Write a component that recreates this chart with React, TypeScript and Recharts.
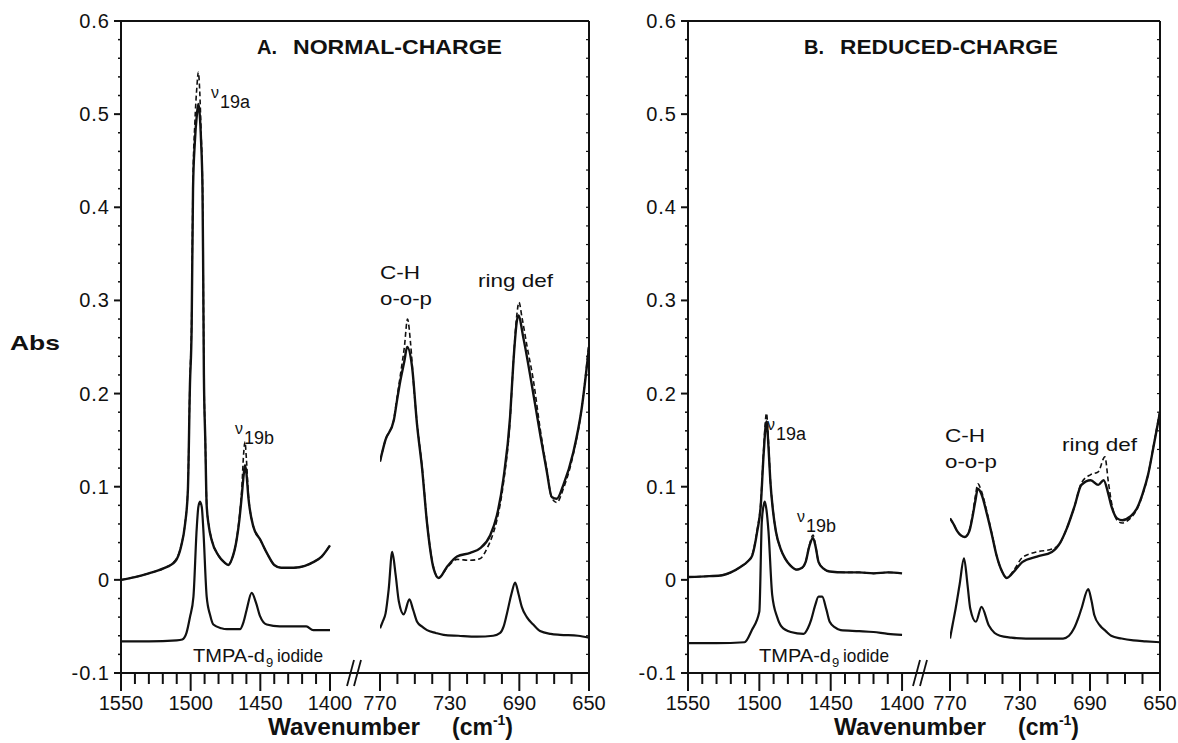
import React from 'react'
import { LineChart, Line, XAxis, YAxis, ReferenceLine } from 'recharts'

type Pt = [number, number]

const font = "'Liberation Sans', Arial, Helvetica, sans-serif"
const ink = '#111'

// A. normal charge, 1550-1400 cm-1
const aHighSolid: Pt[] = [
  [1550, 0.0], [1540, 0.003], [1530, 0.007], [1520, 0.012], [1511, 0.02], [1507, 0.035], [1504, 0.06],
  [1502, 0.096], [1500.5, 0.21], [1499.3, 0.27], [1498.3, 0.42], [1497, 0.47], [1495.5, 0.5], [1494.5, 0.511],
  [1493.5, 0.5], [1492.5, 0.47], [1491.5, 0.42], [1491, 0.33], [1490.5, 0.22], [1489.5, 0.15], [1488.5, 0.08],
  [1487, 0.058], [1485, 0.043], [1480, 0.026], [1476, 0.019], [1473, 0.016], [1470.5, 0.022], [1467, 0.043],
  [1465, 0.065], [1463.4, 0.089], [1462, 0.112], [1461, 0.123], [1460, 0.115], [1458.6, 0.089], [1455, 0.057],
  [1450, 0.043], [1445, 0.028], [1440, 0.016], [1435, 0.013], [1426, 0.013], [1418, 0.015], [1412, 0.019],
  [1406, 0.025], [1400, 0.037],
]
const aHighDashed: Pt[] = [
  [1550, 0.0], [1540, 0.003], [1530, 0.007], [1520, 0.012], [1511, 0.021], [1507, 0.036], [1504, 0.061],
  [1502, 0.098], [1500.5, 0.215], [1499.3, 0.28], [1498.3, 0.43], [1497, 0.49], [1495.5, 0.53], [1494.5, 0.545],
  [1493.5, 0.525], [1492.5, 0.48], [1491.5, 0.425], [1491, 0.335], [1490.5, 0.225], [1489.5, 0.152], [1488.5, 0.082],
  [1487, 0.059], [1485, 0.044], [1480, 0.026], [1476, 0.019], [1473, 0.016], [1470.5, 0.022], [1467, 0.044],
  [1465, 0.068], [1463.4, 0.095], [1462, 0.135], [1461, 0.148], [1460, 0.13], [1458.6, 0.092], [1455, 0.058],
  [1450, 0.043], [1445, 0.028], [1440, 0.016], [1435, 0.013], [1426, 0.013], [1418, 0.015], [1412, 0.019],
  [1406, 0.025], [1400, 0.037],
]
const aHighRef: Pt[] = [
  [1550, -0.066], [1530, -0.066], [1510, -0.065], [1506, -0.064], [1503, -0.057], [1500.5, -0.04], [1498, -0.018],
  [1495.7, 0.054], [1494.5, 0.078], [1493.3, 0.084], [1492, 0.078], [1490.9, 0.054], [1488.5, -0.018],
  [1486, -0.038], [1483.7, -0.048], [1478, -0.052], [1474, -0.053], [1464.6, -0.053], [1462, -0.045],
  [1459.8, -0.032], [1456.2, -0.014], [1453, -0.025], [1450.2, -0.039], [1445.4, -0.048], [1436, -0.05],
  [1417, -0.05], [1412, -0.054], [1400, -0.054],
]

// A. normal charge, 770-650 cm-1
const aLowSolid: Pt[] = [
  [770, 0.127], [766.9, 0.15], [762.1, 0.171], [760.2, 0.193], [758.3, 0.214], [756, 0.235], [754.4, 0.25],
  [751.6, 0.229], [748.7, 0.166], [745.8, 0.119], [743, 0.061], [739.2, 0.012], [736.3, 0.002], [731.5, 0.014],
  [725.8, 0.025], [718.2, 0.029], [712.4, 0.034], [706.7, 0.048], [702.9, 0.069], [699.1, 0.109], [695.3, 0.175],
  [693.4, 0.234], [691.4, 0.278], [690.6, 0.284], [687.6, 0.259], [682.8, 0.209], [678.1, 0.157], [674.2, 0.116],
  [671.4, 0.089], [668.5, 0.087], [664.7, 0.102], [659, 0.137], [654.2, 0.184], [650, 0.25],
]
const aLowDashed: Pt[] = [
  [770, 0.127], [766.9, 0.15], [762.1, 0.172], [760.2, 0.196], [758.3, 0.22], [756, 0.25], [754.2, 0.28],
  [752.5, 0.255], [750.5, 0.205], [748.7, 0.168], [745.8, 0.121], [743, 0.062], [739.2, 0.013], [736.3, 0.002],
  [731.5, 0.013], [725.8, 0.022], [718.2, 0.021], [712.4, 0.023], [708.5, 0.034], [705, 0.05], [702.9, 0.064],
  [699.1, 0.104], [695.3, 0.172], [693.4, 0.235], [691.4, 0.285], [690.2, 0.298], [688.5, 0.282], [685.5, 0.25],
  [682, 0.215], [678.1, 0.163], [674.2, 0.118], [671.4, 0.088], [668.5, 0.083], [664.7, 0.098], [659, 0.135],
  [654.2, 0.184], [650, 0.255],
]
const aLowRef: Pt[] = [
  [770, -0.052], [768.5, -0.045], [766.8, -0.036], [765, -0.01], [763, 0.03], [761, 0.005], [759.2, -0.023],
  [756.4, -0.037], [753.1, -0.021], [751, -0.032], [748.7, -0.045], [746, -0.05], [743, -0.054], [738, -0.057],
  [733.5, -0.059], [725, -0.06], [714.3, -0.061], [705, -0.06], [701, -0.057], [699, -0.05], [697.1, -0.036],
  [694.5, -0.015], [692.4, -0.003], [690.5, -0.015], [688.6, -0.029], [685.7, -0.04], [682, -0.048],
  [678.1, -0.055], [672, -0.058], [666.6, -0.059], [656.3, -0.06], [650, -0.062],
]

// B. reduced charge, 1550-1400 cm-1
const bHighSolid: Pt[] = [
  [1550, 0.003], [1535, 0.004], [1526, 0.005], [1520, 0.008], [1513, 0.014], [1508, 0.02], [1505, 0.026],
  [1501.5, 0.052], [1499, 0.08], [1497, 0.135], [1495, 0.17], [1493.5, 0.14], [1492.3, 0.106], [1490.5, 0.075],
  [1488.4, 0.052], [1485, 0.033], [1482, 0.023], [1478, 0.015], [1474, 0.011], [1470, 0.013], [1467.6, 0.019],
  [1465, 0.036], [1462.4, 0.045], [1460.5, 0.035], [1458.5, 0.019], [1455, 0.012], [1450.7, 0.009], [1440, 0.008],
  [1430, 0.008], [1420, 0.007], [1410, 0.008], [1400, 0.007],
]
const bHighDashed: Pt[] = [
  [1550, 0.003], [1535, 0.004], [1526, 0.005], [1520, 0.008], [1513, 0.014], [1508, 0.02], [1505, 0.027],
  [1501.5, 0.054], [1499, 0.083], [1497, 0.14], [1495, 0.179], [1493.5, 0.145], [1492.3, 0.108], [1490.5, 0.076],
  [1488.4, 0.052], [1485, 0.033], [1482, 0.023], [1478, 0.015], [1474, 0.011], [1470, 0.013], [1467.6, 0.019],
  [1465, 0.037], [1462.4, 0.048], [1460.5, 0.036], [1458.5, 0.019], [1455, 0.012], [1450.7, 0.009], [1440, 0.008],
  [1430, 0.008], [1420, 0.007], [1410, 0.008], [1400, 0.007],
]
const bHighRef: Pt[] = [
  [1550, -0.068], [1530, -0.068], [1510.4, -0.067], [1505.3, -0.054], [1500, -0.034], [1498.3, 0.062],
  [1497, 0.08], [1496.2, 0.084], [1495, 0.075], [1493.6, 0.052], [1491, -0.016], [1487.5, -0.04],
  [1484.5, -0.05], [1478, -0.056], [1469, -0.058], [1466, -0.052], [1463.7, -0.043], [1461, -0.028],
  [1458.5, -0.018], [1456, -0.018], [1453, -0.032], [1450.7, -0.045], [1447, -0.051], [1443, -0.054],
  [1430, -0.055], [1420, -0.056], [1410, -0.058], [1400, -0.059],
]

// B. reduced charge, 770-650 cm-1
const bLowSolid: Pt[] = [
  [770, 0.066], [768, 0.06], [765.8, 0.052], [761.5, 0.046], [759, 0.052], [757.3, 0.066], [755.5, 0.085],
  [754.1, 0.098], [752, 0.092], [748.8, 0.07], [746, 0.048], [743.5, 0.027], [740.5, 0.01], [737.6, 0.002],
  [733, 0.01], [728.7, 0.019], [720.3, 0.025], [711.8, 0.03], [707, 0.04], [703.3, 0.055], [699, 0.078],
  [694.9, 0.102], [689.6, 0.107], [685.3, 0.102], [682.2, 0.107], [679.5, 0.092], [677.9, 0.08], [674.5, 0.066],
  [671.6, 0.064], [667, 0.068], [663.1, 0.077], [660, 0.092], [656.8, 0.113], [653.5, 0.145], [650, 0.18],
]
const bLowDashed: Pt[] = [
  [770, 0.066], [768, 0.06], [765.8, 0.052], [761.5, 0.046], [759, 0.053], [757.3, 0.068], [755.5, 0.09],
  [754.1, 0.103], [752, 0.095], [748.8, 0.072], [746, 0.049], [743.5, 0.027], [740.5, 0.01], [737.6, 0.002],
  [733, 0.012], [728.7, 0.024], [720.3, 0.03], [711.8, 0.033], [707, 0.04], [703.3, 0.055], [699, 0.078],
  [694.9, 0.104], [689.6, 0.113], [685.3, 0.116], [681.5, 0.132], [679.5, 0.105], [677.9, 0.085], [674.5, 0.064],
  [671.6, 0.061], [667, 0.066], [663.1, 0.076], [660, 0.091], [656.8, 0.113], [653.5, 0.146], [650, 0.182],
]
const bLowRef: Pt[] = [
  [770, -0.063], [768.5, -0.048], [766.8, -0.031], [764.5, -0.005], [762, 0.023], [760, -0.005], [758.4, -0.031],
  [755.2, -0.045], [752, -0.029], [747.8, -0.049], [744.5, -0.057], [741.4, -0.06], [735, -0.062], [726.6, -0.063],
  [715, -0.063], [705.4, -0.063], [702, -0.06], [699.1, -0.052], [696.5, -0.04], [694.9, -0.031], [691, -0.01],
  [689.2, -0.022], [687.5, -0.038], [684.3, -0.049], [681, -0.055], [677.9, -0.06], [672, -0.063], [665.2, -0.065],
  [658, -0.066], [650, -0.067],
]

const highTicks = [1550, 1540, 1530, 1520, 1510, 1500, 1490, 1480, 1470, 1460, 1450, 1440, 1430, 1420, 1410, 1400]
const highLabels = [1550, 1500, 1450, 1400]
const lowTicks = [770, 760, 750, 740, 730, 720, 710, 700, 690, 680, 670, 660, 650]
const lowLabels = [770, 730, 690, 650]
const yTicks = [
  -0.1, -0.08, -0.06, -0.04, -0.02, 0, 0.02, 0.04, 0.06, 0.08, 0.1, 0.12, 0.14, 0.16, 0.18, 0.2, 0.22, 0.24,
  0.26, 0.28, 0.3, 0.32, 0.34, 0.36, 0.38, 0.4, 0.42, 0.44, 0.46, 0.48, 0.5, 0.52, 0.54, 0.56, 0.58, 0.6,
]

const rows = (pts: Pt[]) => pts.map(([w, a]) => ({ w, a }))
const isMajor = (v: number) => Math.abs(v * 10 - Math.round(v * 10)) < 1e-6

function XTick({ x, y, payload, labels }: any) {
  const major = labels.includes(payload.value)
  return (
    <g>
      <line x1={x} x2={x} y1={y} y2={y + (major ? 18 : 11)} stroke={ink} strokeWidth={2} />
      {major && (
        <text x={x} y={y + 37} textAnchor="middle" fontSize={20} fill={ink} fontFamily={font}>
          {payload.value}
        </text>
      )}
    </g>
  )
}

function YTick({ x, y, payload }: any) {
  const v = payload.value
  const major = isMajor(v)
  return (
    <g>
      <line x1={x - (major ? 7 : 3)} x2={x} y1={y} y2={y} stroke={ink} strokeWidth={major ? 2 : 1.5} />
      {major && (
        <text x={x - 11} y={y + 7} textAnchor="end" fontSize={20} letterSpacing={1} fill={ink} fontFamily={font}>
          {v === 0 ? '0' : v.toFixed(1)}
        </text>
      )}
    </g>
  )
}

function BorderTick({ x, y }: any) {
  return <line x1={x - 3} x2={x} y1={y} y2={y} stroke={ink} strokeWidth={1.2} />
}

interface SegmentProps {
  left: number
  width: number
  yWidth: number
  marginLeft: number
  marginRight: number
  domain: [number, number]
  ticks: number[]
  labels: number[]
  solid: Pt[]
  dashed: Pt[]
  refPts: Pt[]
  first: boolean
}

function Segment(p: SegmentProps) {
  return (
    <div style={{ position: 'absolute', left: p.left, top: 0 }}>
      <LineChart width={p.width} height={743} margin={{ top: 21, right: p.marginRight, bottom: 0, left: p.marginLeft }}>
        <XAxis
          type="number"
          dataKey="w"
          domain={p.domain}
          reversed
          allowDataOverflow
          ticks={p.ticks}
          interval={0}
          height={70}
          tickSize={0}
          tickMargin={0}
          tickLine={false}
          axisLine={{ stroke: ink, strokeWidth: 2 }}
          tick={(t: any) => <XTick {...t} labels={p.labels} />}
        />
        {p.first ? (
          <YAxis
            type="number"
            domain={[-0.1, 0.6]}
            allowDataOverflow
            ticks={yTicks}
            interval={0}
            width={p.yWidth}
            tickSize={0}
            tickMargin={0}
            tickLine={false}
            axisLine={{ stroke: ink, strokeWidth: 2 }}
            tick={(t: any) => <YTick {...t} />}
          />
        ) : (
          <YAxis
            orientation="right"
            type="number"
            domain={[-0.1, 0.6]}
            allowDataOverflow
            ticks={yTicks}
            interval={0}
            width={1}
            tickSize={0}
            tickMargin={0}
            tickLine={false}
            axisLine={{ stroke: ink, strokeWidth: 2 }}
            tick={(t: any) => <BorderTick {...t} />}
          />
        )}
        <ReferenceLine y={0.6} stroke={ink} strokeWidth={2} />
        <Line data={rows(p.refPts)} dataKey="a" type="monotone" stroke={ink} strokeWidth={2.2} dot={false} isAnimationActive={false} />
        <Line data={rows(p.solid)} dataKey="a" type="monotone" stroke={ink} strokeWidth={2.4} dot={false} isAnimationActive={false} />
        <Line
          data={rows(p.dashed)}
          dataKey="a"
          type="monotone"
          stroke={ink}
          strokeWidth={1.6}
          strokeDasharray="5 3"
          dot={false}
          isAnimationActive={false}
        />
      </LineChart>
    </div>
  )
}

function Nu({ x, y, sub }: { x: number; y: number; sub: string }) {
  return (
    <>
      <text x={x} y={y} fontSize={16}>ν</text>
      <text x={x + 9} y={y + 10} fontSize={18} textLength={sub.length * 10} lengthAdjust="spacingAndGlyphs">{sub}</text>
    </>
  )
}

function PanelText({ dx, title, tag, titleX, titleLen, nuA, nuB, chX, chY, ringX, ringY }: any) {
  return (
    <>
      <text x={titleX} y={54} fontSize={20} fontWeight="bold">{tag}</text>
      <text x={titleX + 36} y={54} fontSize={20} fontWeight="bold" textLength={titleLen} lengthAdjust="spacingAndGlyphs">
        {title}
      </text>
      <Nu x={nuA[0]} y={nuA[1]} sub="19a" />
      <Nu x={nuB[0]} y={nuB[1]} sub="19b" />
      <text x={chX} y={chY} fontSize={19} textLength={40} lengthAdjust="spacingAndGlyphs">C-H</text>
      <text x={chX} y={chY + 26} fontSize={19} textLength={52} lengthAdjust="spacingAndGlyphs">o-o-p</text>
      <text x={ringX} y={ringY} fontSize={19} textLength={75} lengthAdjust="spacingAndGlyphs">ring def</text>
      <text x={dx + 193} y={662} fontSize={19} textLength={72} lengthAdjust="spacingAndGlyphs">TMPA-d</text>
      <text x={dx + 266} y={667} fontSize={13}>9</text>
      <text x={dx + 277} y={662} fontSize={19} textLength={46} lengthAdjust="spacingAndGlyphs">iodide</text>
      <line x1={dx + 347} y1={686} x2={dx + 354} y2={660} stroke={ink} strokeWidth={1.8} />
      <line x1={dx + 354} y1={686} x2={dx + 361} y2={660} stroke={ink} strokeWidth={1.8} />
      <text x={dx + 268} y={735} fontSize={23} fontWeight="bold" textLength={152} lengthAdjust="spacingAndGlyphs">
        Wavenumber
      </text>
      <text x={dx + 452} y={735} fontSize={23} fontWeight="bold">
        (cm<tspan dy={-10} fontSize={14}>-1</tspan>
        <tspan dy={10}>)</tspan>
      </text>
    </>
  )
}

export default function App() {
  return (
    <div style={{ position: 'absolute', left: 0, top: 0, width: 1178, height: 743, background: '#fff' }}>
      <Segment left={0} width={380} yWidth={121} marginLeft={0} marginRight={0} domain={[1364.1, 1550]}
        ticks={highTicks} labels={highLabels} solid={aHighSolid} dashed={aHighDashed} refPts={aHighRef} first />
      <Segment left={350} width={270} yWidth={1} marginLeft={30} marginRight={30} domain={[650, 770]}
        ticks={lowTicks} labels={lowLabels} solid={aLowSolid} dashed={aLowDashed} refPts={aLowRef} first={false} />
      <Segment left={600} width={350} yWidth={88} marginLeft={0} marginRight={0} domain={[1366.4, 1550]}
        ticks={highTicks} labels={highLabels} solid={bHighSolid} dashed={bHighDashed} refPts={bHighRef} first />
      <Segment left={920} width={258} yWidth={1} marginLeft={30} marginRight={17} domain={[650, 770]}
        ticks={lowTicks} labels={lowLabels} solid={bLowSolid} dashed={bLowDashed} refPts={bLowRef} first={false} />
      <svg width={1178} height={743} style={{ position: 'absolute', left: 0, top: 0, pointerEvents: 'none' }}
        fontFamily={font} fill={ink}>
        <text x={10} y={350} fontSize={21} fontWeight="bold" textLength={50} lengthAdjust="spacingAndGlyphs">Abs</text>
        <PanelText dx={0} tag="A." title="NORMAL-CHARGE" titleX={257} titleLen={209}
          nuA={[211, 98]} nuB={[235, 434]} chX={380} chY={279} ringX={478} ringY={287} />
        <PanelText dx={566} tag="B." title="REDUCED-CHARGE" titleX={804} titleLen={218}
          nuA={[767, 430]} nuB={[797, 522]} chX={945} chY={442} ringX={1062} ringY={451} />
      </svg>
    </div>
  )
}
